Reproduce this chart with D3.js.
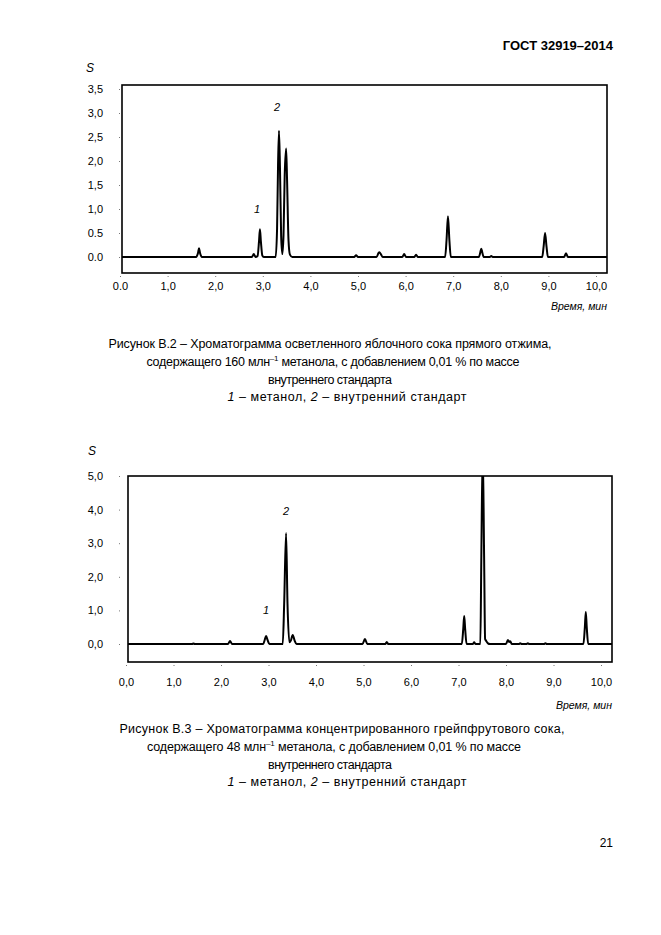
<!DOCTYPE html>
<html>
<head>
<meta charset="utf-8">
<script src="https://cdn.jsdelivr.net/npm/d3@7"></script>
<style>
  body { margin:0; background:#fff; }
  svg text { font-family: "Liberation Sans", Arial, sans-serif; fill:#000; }
</style>
</head>
<body>
<svg id="page" width="661" height="935"></svg>
<script>
/***************************  Data ***************************/
// Рисунок В.2 - trace points [time, S]
var traceB2 = [
  [0.00,0.00],
  [1.60,0.00],[1.64,0.09],[1.66,0.18],[1.68,0.09],[1.72,0.00],
  [2.77,0.00],[2.81,0.06],[2.85,0.00],
  [2.89,0.02],[2.92,0.32],[2.94,0.58],[2.96,0.32],[2.99,0.03],[3.02,0.00],
  [3.27,0.00],[3.30,0.60],[3.32,1.90],[3.34,2.63],[3.36,1.90],[3.385,0.45],[3.41,0.06],
  [3.435,0.45],[3.46,1.70],[3.49,2.26],[3.51,1.60],[3.54,0.35],[3.57,0.05],[3.62,0.00],
  [4.92,0.00],[4.96,0.035],[5.00,0.00],
  [5.39,0.00],[5.43,0.08],[5.45,0.10],[5.48,0.06],[5.52,0.00],
  [5.93,0.00],[5.97,0.06],[6.01,0.00],
  [6.18,0.00],[6.22,0.045],[6.26,0.00],
  [6.83,0.00],[6.86,0.35],[6.89,0.85],[6.92,0.35],[6.95,0.00],
  [7.54,0.00],[7.57,0.10],[7.59,0.17],[7.61,0.10],[7.64,0.00],
  [7.77,0.00],[7.80,0.02],[7.83,0.00],
  [8.87,0.00],[8.90,0.22],[8.93,0.50],[8.96,0.22],[8.99,0.00],
  [9.33,0.00],[9.37,0.08],[9.41,0.00],
  [10.30,0.00]
];
var xTicksB2 = [0,1,2,3,4,5,6,7,8,9,10];
var xLabelsB2 = ["0.0","1,0","2,0","3,0","4,0","5,0","6,0","7,0","8,0","9,0","10,0"];
var yTicksB2 = [0,0.5,1,1.5,2,2.5,3,3.5];
var yLabelsB2 = ["0.0","0.5","1,0","1,5","2,0","2,5","3,0","3,5"];
var peakNamesB2 = [["1",2.88,1.00],["2",3.30,3.12]];
var captionB2 = [
  "Рисунок В.2 – Хроматограмма осветленного яблочного сока прямого отжима,",
  ["содержащего 160 млн", "–1", " метанола, с добавлением 0,01 % по массе"],
  "внутреннего стандарта",
  ["", "1", " – метанол, ", "2", " – внутренний стандарт"]
];

// Рисунок В.3
var traceB3 = [
  [0.00,0.00],
  [1.39,0.00],[1.42,0.015],[1.45,0.00],
  [2.15,0.00],[2.19,0.09],[2.23,0.00],
  [2.89,0.00],[2.92,0.12],[2.95,0.24],[2.98,0.12],[3.02,0.00],
  [3.30,0.00],[3.33,1.20],[3.37,3.30],[3.40,1.20],[3.44,0.05],
  [3.47,0.10],[3.51,0.27],[3.55,0.10],[3.59,0.00],
  [4.98,0.00],[5.03,0.15],[5.08,0.00],
  [5.46,0.00],[5.49,0.06],[5.52,0.00],
  [7.07,0.00],[7.10,0.45],[7.12,0.83],[7.14,0.45],[7.17,0.00],
  [7.30,0.00],[7.33,0.05],[7.36,0.00],
  [7.46,0.00],[7.48,2.50],[7.51,5.80],[7.54,2.50],[7.56,0.15],[7.58,0.10],[7.62,0.02],[7.66,0.00],
  [8.00,0.00],[8.04,0.12],[8.07,0.06],[8.09,0.08],[8.12,0.00],
  [8.27,0.00],[8.30,0.02],[8.33,0.00],
  [8.43,0.00],[8.46,0.02],[8.49,0.00],
  [8.80,0.00],[8.83,0.02],[8.86,0.00],
  [9.63,0.00],[9.66,0.50],[9.68,0.95],[9.70,0.50],[9.73,0.00],
  [10.30,0.00]
];
var xTicksB3 = [0,1,2,3,4,5,6,7,8,9,10];
var xLabelsB3 = ["0,0","1,0","2,0","3,0","4,0","5,0","6,0","7,0","8,0","9,0","10,0"];
var yTicksB3 = [0,1,2,3,4,5];
var yLabelsB3 = ["0,0","1,0","2,0","3,0","4,0","5,0"];
var peakNamesB3 = [["1",2.95,1.01],["2",3.37,3.96]];
var captionB3 = [
  "Рисунок В.3 – Хроматограмма концентрированного грейпфрутового сока,",
  ["содержащего 48 млн", "–1", " метанола, с добавлением 0,01 % по массе"],
  "внутреннего стандарта",
  ["", "1", " – метанол, ", "2", " – внутренний стандарт"]
];

/***************************  Functions ***************************/
var svg = d3.select("#page");

function draw_chart(cfg)
{
  var g = svg.append("g");
  var box = cfg.box;

  var x = d3.scaleLinear().domain([0,10]).range(cfg.xRange);
  var y = d3.scaleLinear().domain(cfg.yDomain).range(cfg.yRange);

  g.append("clipPath").attr("id", cfg.id + "_clip")
    .append("rect")
    .attr("x", box.left).attr("y", box.top)
    .attr("width", box.right - box.left).attr("height", box.bottom - box.top);

  // y axis - only little dots and labels
  var yAxis = d3.axisLeft(y)
      .tickValues(cfg.yTicks)
      .tickFormat(function(d,i){ return cfg.yLabels[i]; })
      .tickSize(1).tickPadding(16);
  var ya = g.append("g").attr("transform","translate(120,0)").call(yAxis);
  ya.select(".domain").remove();
  ya.selectAll("line").attr("stroke","#777");
  ya.selectAll("text").style("font-size","11px").attr("font-family",null);

  var xAxis = d3.axisBottom(x)
      .tickValues(cfg.xTicks)
      .tickFormat(function(d,i){ return cfg.xLabels[i]; })
      .tickSize(1).tickPadding(cfg.xPad);
  var xa = g.append("g").attr("transform","translate(0," + (box.bottom + 3) + ")").call(xAxis);
  xa.select(".domain").remove();
  xa.selectAll("line").attr("stroke","#777");
  xa.selectAll("text").style("font-size","11px").attr("font-family",null);

  // chromatogram
  var line = d3.line()
      .x(function(d){ return x(d[0]); })
      .y(function(d){ return y(d[1]); })
      .curve(d3.curveMonotoneX);
  g.append("path")
    .datum(cfg.trace)
    .attr("clip-path","url(#" + cfg.id + "_clip)")
    .attr("d", line)
    .attr("fill","none")
    .attr("stroke","#000")
    .attr("stroke-width",2)
    .attr("stroke-linejoin","round");

  g.append("rect")
    .attr("x", box.left).attr("y", box.top)
    .attr("width", box.right - box.left).attr("height", box.bottom - box.top)
    .attr("fill","none").attr("stroke","#000").attr("stroke-width",1.6);

  g.selectAll("text.peak")
    .data(cfg.peaks)
    .enter()
    .append("text")
    .attr("class","peak")
    .attr("x", function(d){ return x(d[1]); })
    .attr("y", function(d){ return y(d[2]); })
    .attr("dy","0.35em")
    .attr("text-anchor","middle")
    .style("font-size","11px").style("font-style","italic")
    .text(function(d){ return d[0]; });

  g.append("text").attr("x", cfg.sPos[0]).attr("y", cfg.sPos[1])
    .style("font-size","12px").style("font-style","italic").text("S");

  g.append("text").attr("x", box.right).attr("y", cfg.timeY)
    .attr("text-anchor","end")
    .style("font-size","10.5px").style("font-style","italic")
    .text("Время, мин");

  // caption lines
  cfg.caption.forEach(function(c,i){
    var t = svg.append("text")
        .attr("x", cfg.capX[i]).attr("y", cfg.capY + i*17.8)
        .attr("text-anchor","middle")
        .style("font-size","12.5px");
    if(cfg.capW[i]) { t.attr("textLength", cfg.capW[i]).attr("lengthAdjust","spacing"); }
    if(typeof c === "string") { t.text(c); }
    else if(c.length == 3)
    {
      t.append("tspan").text(c[0]);
      t.append("tspan").attr("dy",-5).style("font-size","8px").text(c[1]);
      t.append("tspan").attr("dy",5).text(c[2]);
    }
    else
    {
      t.append("tspan").style("font-style","italic").text(c[1]);
      t.append("tspan").text(c[2]);
      t.append("tspan").style("font-style","italic").text(c[3]);
      t.append("tspan").text(c[4]);
    }
  });
}

/***************************  Page ***************************/
svg.append("text").attr("x",613).attr("y",50).attr("text-anchor","end")
  .style("font-size","13px").style("font-weight","bold").text("ГОСТ 32919–2014");

draw_chart({
  id:"b2", trace:traceB2,
  box:{left:122, right:607, top:85, bottom:273},
  xRange:[120,596], yDomain:[0,3.5], yRange:[257,89],
  xTicks:xTicksB2, xLabels:xLabelsB2, yTicks:yTicksB2, yLabels:yLabelsB2, xPad:5,
  peaks:peakNamesB2, sPos:[86,72], timeY:310,
  caption:captionB2, capX:[330,333,330,347], capY:348, capW:[443,373,124,239]
});

draw_chart({
  id:"b3", trace:traceB3,
  box:{left:128, right:612, top:476, bottom:662},
  xRange:[126,601], yDomain:[0,5], yRange:[644,476],
  xTicks:xTicksB3, xLabels:xLabelsB3, yTicks:yTicksB3, yLabels:yLabelsB3, xPad:12,
  peaks:peakNamesB3, sPos:[88,455], timeY:709,
  caption:captionB3, capX:[342,334,330,347], capY:733, capW:[445,374,124,239]
});

svg.append("text").attr("x",613).attr("y",847).attr("text-anchor","end")
  .style("font-size","12px").text("21");
</script>
</body>
</html>
